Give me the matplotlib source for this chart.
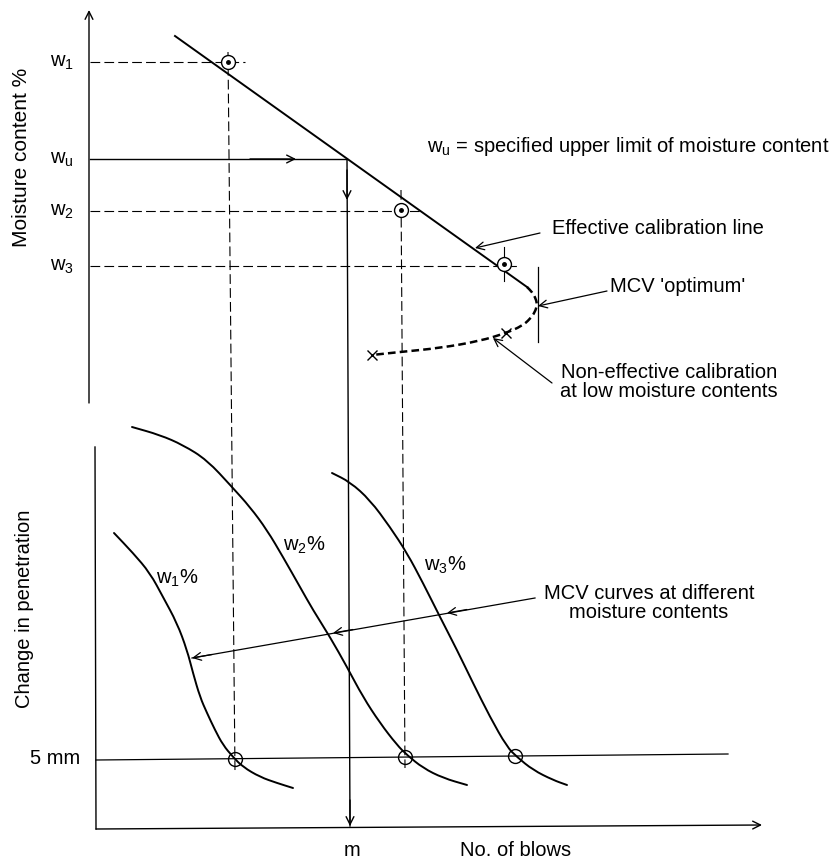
"""MCV calibration schematic: moisture content vs. number of blows."""

import matplotlib.pyplot as plt
from matplotlib.patches import PathPatch
from matplotlib.path import Path

plt.rcParams["font.family"] = ["Liberation Sans", "DejaVu Sans"]
plt.rcParams["mathtext.fontset"] = "custom"
plt.rcParams["mathtext.rm"] = "Liberation Sans"
plt.rcParams["mathtext.it"] = "Liberation Sans"
plt.rcParams["lines.scale_dashes"] = False

# ── Data (drawing units, y grows downward) ────────────────────────────────────
# top panel: calibration line and its test points
calib_x = [175, 527]
calib_y = [36, 287]
calib_pts_x = [228, 401, 504]
calib_pts_y = [62, 210, 264]
w_levels = [62, 159, 211, 266]
w_labels = ["w$_1$", "w$_\\mathrm{u}$", "w$_2$", "w$_3$"]

# non-effective (dashed) part of the calibration curve
noneff_x = [527, 532, 536, 537, 535, 530, 522, 506, 480, 440, 400, 372]
noneff_y = [287, 292, 299, 305, 312, 319, 326, 333, 341, 348, 352, 355]
cross_x = [506, 372]
cross_y = [333, 355]

# bottom panel: MCV curves (change in penetration vs. blows)
w1_x = [114, 133, 150, 163, 177, 187, 193, 200, 207, 215, 223, 233, 243, 260, 277, 293]
w1_y = [533, 553, 573, 597, 623, 650, 673, 697, 713, 730, 745, 757, 767, 777, 783, 788]
w2_x = [132, 160, 183, 207, 232, 250, 267, 283, 300, 313, 330, 347, 363, 380, 397,
        407, 423, 443, 467]
w2_y = [427, 435, 445, 460, 487, 507, 530, 557, 587, 610, 637, 667, 697, 723, 745,
        755, 768, 778, 785]
w3_x = [332, 350, 370, 390, 407, 423, 440, 457, 473, 490, 507, 517, 533, 553, 567]
w3_y = [473, 482, 500, 527, 553, 583, 617, 650, 683, 717, 747, 757, 770, 780, 785]
curve_labels = ["w$_1$%", "w$_2$%", "w$_3$%"]
five_mm_pts_x = [235, 405, 515]
five_mm_y = [759, 757, 756]

m_x = 347


def arrow(ax, start, end, lw=1.0):
    ax.annotate("", xy=end, xytext=start,
                arrowprops=dict(arrowstyle="->", lw=lw, color="black",
                                shrinkA=0, shrinkB=0,
                                mutation_scale=14))


def smooth_path(xs, ys):
    """Quadratic Bezier path using the read points as control points."""
    pts = list(zip(xs, ys))
    verts = [pts[0]]
    codes = [Path.MOVETO]
    mid = ((pts[0][0] + pts[1][0]) / 2, (pts[0][1] + pts[1][1]) / 2)
    verts.append(mid)
    codes.append(Path.LINETO)
    for i in range(1, len(pts) - 1):
        nxt = ((pts[i][0] + pts[i + 1][0]) / 2, (pts[i][1] + pts[i + 1][1]) / 2)
        verts += [pts[i], nxt]
        codes += [Path.CURVE3, Path.CURVE3]
    verts.append(pts[-1])
    codes.append(Path.LINETO)
    return Path(verts, codes)


def main():
    fig = plt.figure(figsize=(8.32, 8.6), dpi=100)
    ax = fig.add_axes([0, 0, 1, 1])
    ax.set_xlim(0, 832)
    ax.set_ylim(860, 0)
    ax.axis("off")

    k = dict(color="black")
    dash = dict(color="black", lw=0.8, dashes=(7, 3))

    # ── axes ──
    arrow(ax, (89, 403), (89, 10), lw=1.0)
    ax.plot([95, 96], [447, 829], lw=1.0, **k)
    arrow(ax, (96, 829), (762, 825), lw=1.0)

    # ── top panel guides ──
    ax.plot([90, 245], [w_levels[0], w_levels[0]], **dash)
    ax.plot([90, 420], [w_levels[2], w_levels[2]], **dash)
    ax.plot([90, 518], [w_levels[3], w_levels[3]], **dash)
    ax.plot([228, 235], [52, 772], **dash)
    ax.plot([401, 405], [190, 768], **dash)
    ax.plot([504, 504], [247, 281], lw=0.8, **k)

    # w_u line, arrows, and drop to m
    ax.plot([90, m_x], [w_levels[1], w_levels[1]], lw=1.0, **k)
    arrow(ax, (250, w_levels[1]), (296, w_levels[1]))
    ax.plot([m_x, m_x + 3], [w_levels[1], 826], lw=1.0, **k)
    arrow(ax, (m_x, 170), (m_x, 200))
    arrow(ax, (m_x + 3, 800), (m_x + 3, 826))

    # calibration line and dashed non-effective part
    ax.plot(calib_x, calib_y, lw=1.4, **k)
    ax.add_patch(PathPatch(smooth_path(noneff_x, noneff_y), fill=False,
                           lw=1.8, ec="black", linestyle=(0, (5.5, 3))))
    ax.plot(cross_x, cross_y, "x", ms=7, mew=1.0, **k)
    ax.plot([538, 538], [267, 342], lw=0.9, **k)
    ax.plot(calib_pts_x, calib_pts_y, "o", ms=10, mfc="white", mec="black", mew=1.0)
    ax.plot(calib_pts_x, calib_pts_y, "o", ms=2.5, **k)

    # ── bottom panel ──
    ax.plot([96, 728], [760, 754], lw=0.9, **k)
    for cx, cy in [(w1_x, w1_y), (w2_x, w2_y), (w3_x, w3_y)]:
        ax.add_patch(PathPatch(smooth_path(cx, cy), fill=False, lw=1.4,
                               ec="black", capstyle="round"))
    ax.plot(five_mm_pts_x, five_mm_y, "o", ms=10, mfc="none", mec="black", mew=1.0)

    # MCV curves pointer
    ax.plot([535, 192], [598, 658], lw=0.9, **k)
    for p in [(447, 613), (333, 633), (192, 658)]:
        arrow(ax, (p[0] + 20, p[1] - 3.5), p, lw=0.9)

    # annotations
    arrow(ax, (540, 233), (475, 248), lw=0.9)
    arrow(ax, (607, 291), (538, 306), lw=0.9)
    arrow(ax, (552, 383), (493, 338), lw=0.9)

    fs = 14.5
    for y, lab in zip(w_levels, w_labels):
        ax.text(62, y, lab, fontsize=fs, ha="center", va="center")
    ax.text(55, 759, "5 mm", fontsize=fs, ha="center", va="center")
    ax.text(22, 157, "Moisture content %", fontsize=15, rotation=90,
            ha="center", va="center")
    ax.text(25, 609, "Change in penetration", fontsize=fs, rotation=90,
            ha="center", va="center")
    ax.text(m_x + 5, 850, "m", fontsize=fs, ha="center", va="center")
    ax.text(516, 850, "No. of blows", fontsize=fs, ha="center", va="center")

    ax.text(427, 147, "w$_\\mathrm{u}$ = specified upper limit of moisture content",
            fontsize=fs, ha="left", va="center")
    ax.text(552, 228, "Effective calibration line", fontsize=fs, ha="left", va="center")
    ax.text(610, 287, "MCV 'optimum'", fontsize=fs, ha="left", va="center")
    ax.text(669, 382, "Non-effective calibration\nat low moisture contents",
            fontsize=fs, ha="center", va="center", linespacing=1.0)
    ax.text(649, 603, "MCV curves at different\nmoisture contents",
            fontsize=fs, ha="center", va="center", linespacing=1.0)

    for (lx, ly), lab in zip([(177, 578), (304, 545), (445, 565)], curve_labels):
        ax.text(lx, ly, lab, fontsize=fs, ha="center", va="center")

    fig.savefig("out.png", dpi=100)
    plt.close(fig)


if __name__ == "__main__":
    main()
